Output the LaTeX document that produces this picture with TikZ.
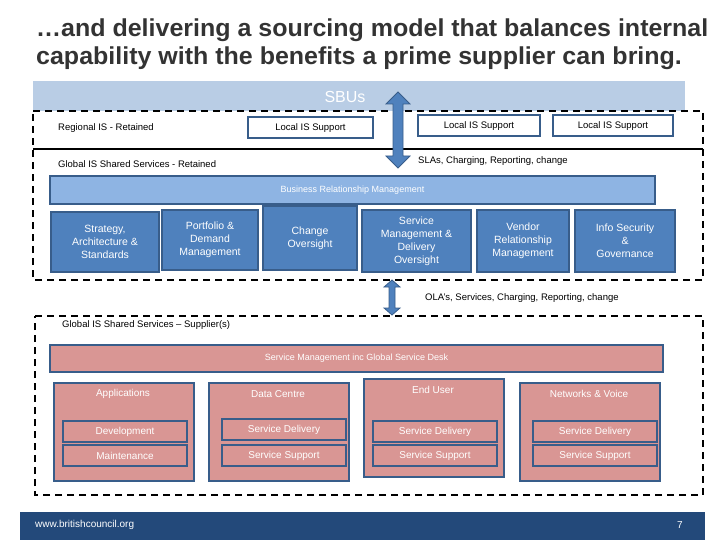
\documentclass[tikz,border=0pt]{standalone}
\usepackage{fontspec}
\setmainfont{Liberation Sans}
\usetikzlibrary{shapes.arrows,calc}
\definecolor{sbu}{HTML}{B9CDE5}
\definecolor{brm}{HTML}{8EB4E3}
\definecolor{blu}{HTML}{4F81BD}
\definecolor{bord}{HTML}{385D8A}
\definecolor{pink}{HTML}{D99694}
\definecolor{foot}{HTML}{23497A}
\definecolor{ttl}{HTML}{333333}
\begin{document}
\begin{tikzpicture}[x=1pt,y=-1pt,
  dsh/.style={draw=black,line width=2.2pt,dash pattern=on 7pt off 5pt},
  lbl/.style={font=\fontsize{9.5}{11}\selectfont,anchor=west,inner sep=0},
  lis/.style={draw=bord,line width=2pt,fill=white,font=\fontsize{9.5}{11}\selectfont,inner sep=0},
  bb/.style={draw=bord,line width=2pt,fill=blu,text=white,font=\fontsize{10.5}{13}\selectfont,align=center,inner sep=0},
  pb/.style={draw=bord,line width=2pt,fill=pink,text=white,font=\fontsize{10}{12}\selectfont,inner sep=0},
  arr/.style={draw=bord,fill=blu,line width=0.8pt}]
\useasboundingbox (0,0) rectangle (720,540);
\node[anchor=west,text=ttl,font=\bfseries\fontsize{24.5}{28}\selectfont,align=left,inner sep=0,xscale=1.02] (title) at (36,44) {…and delivering a sourcing model that balances internal\\capability with the benefits a prime supplier can bring.};
% SBUs
\fill[sbu] (33,81) rectangle (685,111);
\node[text=white,font=\fontsize{16}{18}\selectfont] (sbu) at (345,97) {SBUs};
% dashed boxes
\draw[dsh] (33,111) -- (703,111) -- (703,280) -- (33,280) -- cycle;
\draw[black,line width=1.5pt] (33,149) -- (703,149);
\node[lbl] (reg) at (58,128) {Regional IS - Retained};
\node[lis,minimum width=125,minimum height=21] (l1) at (310.5,128) {Local IS Support};
\node[lis,minimum width=122,minimum height=21] (l2) at (479,126) {Local IS Support};
\node[lis,minimum width=120,minimum height=21] (l3) at (613,126) {Local IS Support};
\node[lbl] (glr) at (58,164) {Global IS Shared Services - Retained};
\node[lbl] (sla) at (418,161) {SLAs, Charging, Reporting, change};
\node[draw=bord,line width=2pt,fill=brm,text=white,font=\fontsize{9}{11}\selectfont,minimum width=605,minimum height=28,inner sep=0] (brm) at (352.5,190) {Business Relationship Management};
\node[bb,minimum width=108,minimum height=60] (s1) at (105,242) {Strategy,\\Architecture \&\\Standards};
\node[bb,minimum width=96,minimum height=60] (s2) at (210,240) {Portfolio \&\\Demand\\Management};
\node[bb,minimum width=94,minimum height=64] (s3) at (310,238) {Change\\Oversight};
\node[bb,minimum width=109,minimum height=62] (s4) at (416.5,241) {Service\\Management \&\\Delivery\\Oversight};
\node[bb,minimum width=92,minimum height=62] (s5) at (523,241) {Vendor\\Relationship\\Management};
\node[bb,minimum width=100,minimum height=62] (s6) at (625,241) {Info Security\\\&\\Governance};
% arrow 1
\draw[arr] (398,92) -- (410,104) -- (403,104) -- (403,156) -- (410,156) -- (398,168) -- (386,156) -- (393,156) -- (393,104) -- (386,104) -- cycle;
% supplier
\draw[dsh] (35,316) -- (703,316) -- (703,495) -- (35,495) -- cycle;
\draw[arr] (392,280) -- (400,287) -- (395,287) -- (395,308) -- (400,308) -- (392,315) -- (384,308) -- (389,308) -- (389,287) -- (384,287) -- cycle;
\node[lbl] (ola) at (425,298) {OLA's, Services, Charging, Reporting, change};
\node[lbl] (gls) at (62,325) {Global IS Shared Services – Supplier(s)};
\node[pb,font=\fontsize{9}{11}\selectfont,minimum width=613,minimum height=27] (sm) at (356.5,358.5) {Service Management inc Global Service Desk};
\foreach \n/\x/\y/\t in {c1/53/382/Applications,c2/208/382/Data Centre,c3/363/378/End User,c4/519/382/Networks \& Voice}{
  \node[draw=bord,line width=2pt,fill=pink,minimum width=140,minimum height=98,inner sep=0,anchor=north west] (\n) at (\x,\y) {};
  \node[text=white,font=\fontsize{10}{12}\selectfont] (\n h) at ($(\x,\y)+(70,12)$) {\t};
}
\node[pb,minimum width=124,minimum height=21] (d1) at (125,431.5) {Development};
\node[pb,minimum width=124,minimum height=21] (d2) at (125,455.5) {Maintenance};
\node[pb,minimum width=124,minimum height=21] (e1) at (284,429.5) {Service Delivery};
\node[pb,minimum width=124,minimum height=21] (e2) at (284,455.5) {Service Support};
\node[pb,minimum width=124,minimum height=21] (f1) at (435,431.5) {Service Delivery};
\node[pb,minimum width=124,minimum height=21] (f2) at (435,455.5) {Service Support};
\node[pb,minimum width=124,minimum height=21] (g1) at (595,431.5) {Service Delivery};
\node[pb,minimum width=124,minimum height=21] (g2) at (595,455.5) {Service Support};
% footer
\fill[foot] (20,512) rectangle (705,540);
\node[lbl,text=white,font=\fontsize{10}{12}\selectfont] (url) at (35,525) {www.britishcouncil.org};
\node[text=white,font=\fontsize{10}{12}\selectfont] (pg) at (680,525) {7};
\end{tikzpicture}
\end{document}
